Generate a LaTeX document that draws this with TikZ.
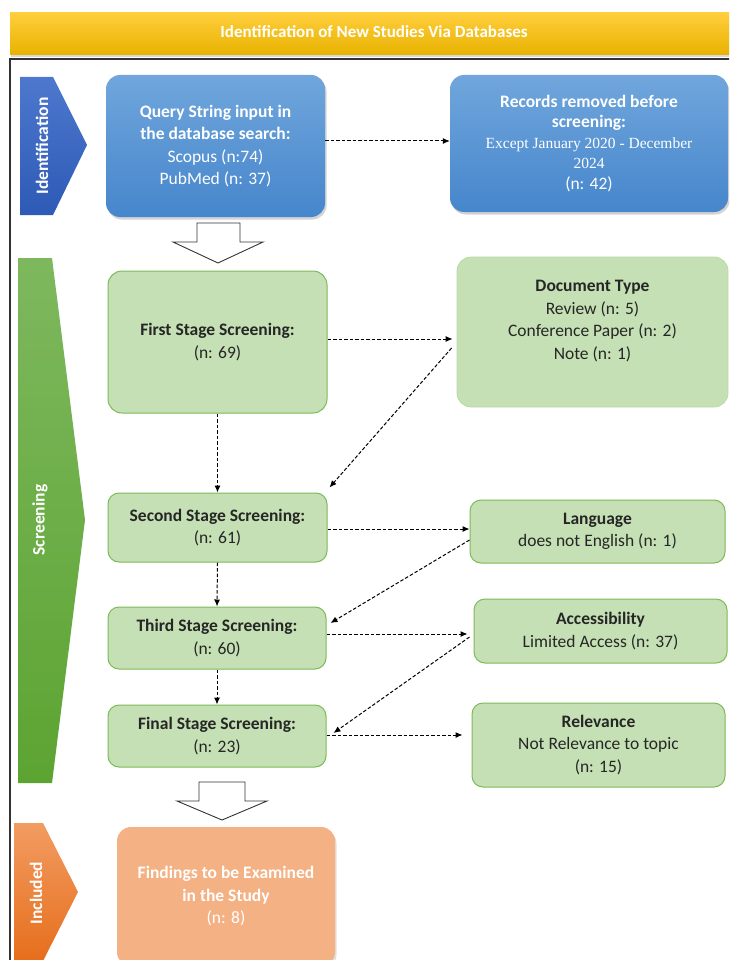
\documentclass[tikz,border=0pt]{standalone}
\usepackage{fontspec}
\setmainfont{Carlito}
\newfontfamily\timesf{Liberation Serif}
\usetikzlibrary{arrows.meta,shadows}
\definecolor{bannerT}{RGB}{255,206,60}
\definecolor{bannerB}{RGB}{232,178,0}
\definecolor{blueT}{RGB}{112,166,220}
\definecolor{blueB}{RGB}{70,134,204}
\definecolor{idT}{RGB}{78,120,206}
\definecolor{idB}{RGB}{45,90,182}
\definecolor{scrT}{RGB}{126,184,94}
\definecolor{scrB}{RGB}{92,164,50}
\definecolor{incT}{RGB}{242,156,98}
\definecolor{incB}{RGB}{230,110,28}
\definecolor{greenF}{RGB}{197,224,180}
\definecolor{greenD}{RGB}{124,186,88}
\definecolor{salmon}{RGB}{244,177,131}
\begin{document}
\begin{tikzpicture}[x=1pt,y=-1pt,
  txt/.style={font=\fontsize{17.5}{22.5}\selectfont},
  box/.style={txt, rounded corners=14pt, align=center, inner sep=2pt},
  bluebox/.style={box, top color=blueT, bottom color=blueB, draw=none, text=white,
    drop shadow={opacity=0.35, shadow xshift=1.5pt, shadow yshift=-2.5pt}},
  greenbox/.style={box, fill=greenF, draw=greenD, line width=1pt, text=black!85},
  conn/.style={draw=black, line width=1pt, dash pattern=on 3.5pt off 2pt, -{Latex[length=7pt,width=6pt]}},
  hollow/.style={draw=black!80, fill=white, line width=0.9pt},
  side/.style={font=\fontsize{17.5}{20}\selectfont\bfseries, text=white, rotate=90}
]
\useasboundingbox (0,0) rectangle (729,960);
\clip (0,0) rectangle (729,960);

% banner
\path[top color=bannerT, bottom color=bannerB, drop shadow={opacity=0.3, shadow xshift=1pt, shadow yshift=-2pt}]
  (10,13) rectangle (745,55);
\node[font=\fontsize{17}{20}\selectfont\bfseries, text=white] (banner) at (374,32) {Identification of New  Studies Via Databases};

% frame
\draw[line width=1.3pt, black!80] (10,980) -- (10,59) -- (745,59);

% side chevrons
\path[top color=idT, bottom color=idB] (20,77) -- (53,77) -- (87,145) -- (53,215) -- (20,215) -- cycle;
\node[side] (lid) at (42,146) {Identification};
\path[top color=scrT, bottom color=scrB] (18,258) -- (52,258) -- (85,520) -- (52,783) -- (18,783) -- cycle;
\node[side] (lscr) at (40,520) {Screening};
\path[top color=incT, bottom color=incB] (14,823) -- (43,823) -- (78,892) -- (43,961) -- (14,961) -- cycle;
\node[side] (linc) at (36,893) {Included};

% boxes
\node[bluebox, minimum width=219pt, minimum height=142pt] (query) at (215.5,146)
  {\textbf{Query String input in}\\\textbf{the database search:}\\Scopus (n:74)\\PubMed (n: 37)};
\node[bluebox, minimum width=278pt, minimum height=137pt, font=\fontsize{17.5}{20.5}\selectfont] (records) at (589,143.5)
  {\textbf{Records removed before}\\\textbf{screening:}\\{\timesf\fontsize{15.5}{20.5}\selectfont Except January  2020 - December}\\{\timesf\fontsize{15.5}{20.5}\selectfont 2024}\\(n: 42)};

\node[greenbox, minimum width=219pt, minimum height=142pt] (first) at (217.5,342)
  {\textbf{First Stage Screening:}\\(n: 69)};
\node[box, fill=greenF, draw=greenF!85!greenD, line width=0.8pt, minimum width=271pt, minimum height=150pt] (doctype) at (592.5,332) {};
\node[txt, align=center, text=black!85] (doctxt) at (592.5,321)
  {\textbf{Document Type}\\Review (n: 5)\\Conference Paper  (n: 2)\\Note (n: 1)};

\node[greenbox, rounded corners=11pt, minimum width=219pt, minimum height=69pt] (second) at (217.5,527.5)
  {\textbf{Second Stage Screening:}\\(n: 61)};
\node[greenbox, rounded corners=11pt, minimum width=218pt, minimum height=62pt] (third) at (217,638)
  {\textbf{Third Stage Screening:}\\(n: 60)};
\node[greenbox, rounded corners=11pt, minimum width=218pt, minimum height=62pt] (final) at (217,736)
  {\textbf{Final Stage Screening:}\\(n: 23)};

\node[greenbox, rounded corners=11pt, minimum width=255pt, minimum height=63pt] (lang) at (597.5,531.5)
  {\textbf{Language}\\does not English (n: 1)};
\node[greenbox, rounded corners=11pt, minimum width=253pt, minimum height=64pt] (access) at (600.5,631)
  {\textbf{Accessibility}\\Limited Access (n: 37)};
\node[greenbox, rounded corners=11pt, minimum width=253pt, minimum height=84pt] (relev) at (598.5,745)
  {\textbf{Relevance}\\Not Relevance to topic\\(n: 15)};

\node[box, fill=salmon, text=white, minimum width=218pt, minimum height=139pt,
  drop shadow={opacity=0.25, shadow xshift=1.5pt, shadow yshift=-2.5pt}] (findings) at (226,896.5)
  {\textbf{Findings to be Examined}\\\textbf{in the Study}\\(n: 8)};

% hollow arrows
\draw[hollow] (197,223) -- (240,223) -- (240,242) -- (263,242) -- (218,263) -- (173,242) -- (197,242) -- cycle;
\draw[hollow] (199,782) -- (245,782) -- (245,801) -- (267,801) -- (222,820) -- (177,801) -- (199,801) -- cycle;

% connectors
\draw[conn] ([yshift=5pt]query.east) -- ([yshift=2.5pt]records.west);
\draw[conn, shorten >=4pt] ([yshift=3pt]first.east) -- ([yshift=3pt]first.east -| doctype.west);
\draw[conn] ([xshift=-5pt,yshift=-16pt]doctype.west) -- ([xshift=2pt,yshift=5pt]second.north east);
\draw[conn] (first.south) -- (second.north);
\draw[conn] ([yshift=-1.5pt]second.east) -- ([yshift=-1.5pt]second.east -| lang.west);
\draw[conn] ([yshift=-8.5pt]lang.west) -- ([xshift=4pt,yshift=15pt]third.east);
\draw[conn] (second.south) -- (third.north);
\draw[conn, shorten >=6pt] ([yshift=4pt]third.east) -- ([yshift=4pt]third.east -| access.west);
\draw[conn] ([xshift=-4pt,yshift=-6pt]access.west) -- ([xshift=7pt,yshift=3pt]final.east);
\draw[conn] (third.south) -- (final.north);
\draw[conn, shorten >=9pt] ([yshift=1pt]final.east) -- ([yshift=1pt]final.east -| relev.west);
\end{tikzpicture}
\end{document}
